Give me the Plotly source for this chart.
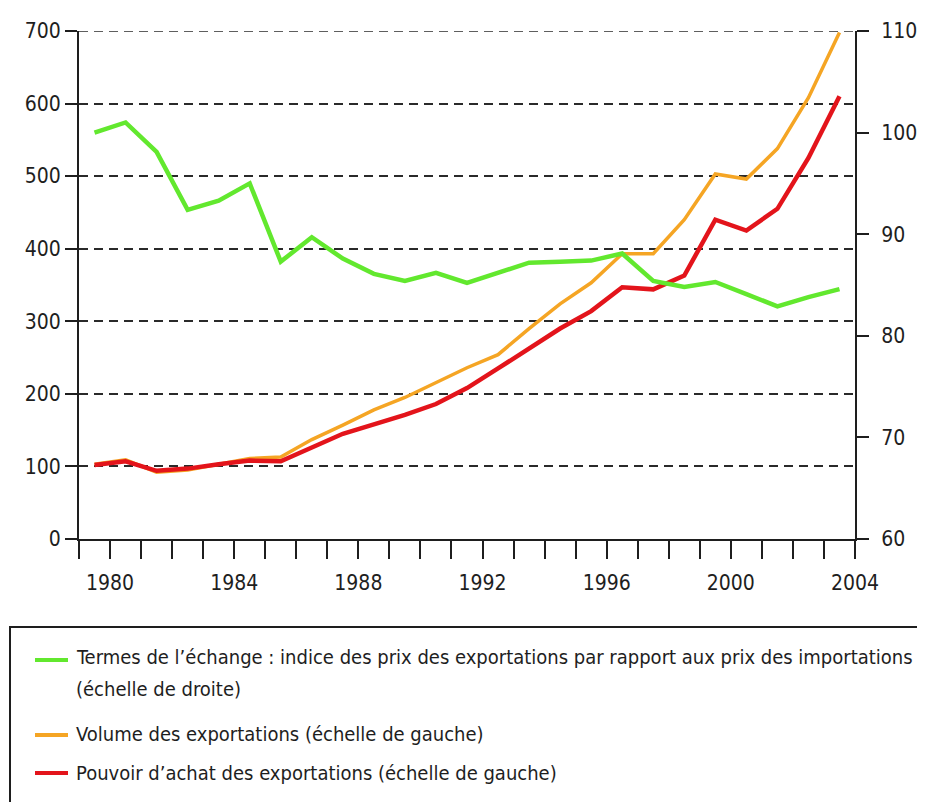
import plotly.graph_objects as go

# ---- data ----
years = list(range(1979, 2004))
termes_echange = [100.0, 101.0, 98.1, 92.4, 93.3, 95.0, 87.3, 89.7, 87.6, 86.1,
                  85.4, 86.2, 85.2, 86.2, 87.2, 87.3, 87.4, 88.1, 85.4, 84.8,
                  85.3, 84.1, 82.9, 83.8, 84.6]
volume_exportations = [103, 109, 92, 95, 103, 111, 113, 137, 157, 178,
                       195, 215, 236, 254, 290, 324, 353, 393, 393, 440,
                       503, 496, 538, 608, 698]
pouvoir_achat = [102, 107, 94, 97, 103, 108, 107, 126, 145, 158,
                 171, 186, 208, 235, 262, 290, 314, 347, 344, 363,
                 440, 425, 455, 525, 610]

x_tick_years = list(range(1979, 2005))
x_label_years = [1980, 1984, 1988, 1992, 1996, 2000, 2004]
left_ticks = [0, 100, 200, 300, 400, 500, 600, 700]
right_ticks = [60, 70, 80, 90, 100, 110]

legend_labels = [
    "Termes de l\u2019\u00e9change : indice des prix des exportations par rapport aux prix des importations",
    "(\u00e9chelle de droite)",
    "Volume des exportations (\u00e9chelle de gauche)",
    "Pouvoir d\u2019achat des exportations (\u00e9chelle de gauche)",
]

# ---- styling / layout (page pixel targets; the page body adds an 8px margin) ----
OFF = 8
W, H = 925 - OFF, 810 - 2 * OFF
L, R, T, B = 79 - OFF, 855 - OFF, 31 - OFF, 539 - OFF
FONT = "Liberation Sans Narrow, DejaVu Sans Condensed, Arial Narrow, sans-serif"
GREEN = "#62E82E"
ORANGE = "#F5A524"
RED = "#E3141B"
INK = "#1e1e1e"

xpos = [y + 0.5 for y in years]  # values plotted in the middle of each year

fig = go.Figure()
fig.add_trace(go.Scatter(x=xpos, y=termes_echange, mode="lines", yaxis="y2",
                         line=dict(color=GREEN, width=4.5), name=legend_labels[0]))
fig.add_trace(go.Scatter(x=xpos, y=volume_exportations, mode="lines",
                         line=dict(color=ORANGE, width=3.5), name=legend_labels[2]))
fig.add_trace(go.Scatter(x=xpos, y=pouvoir_achat, mode="lines",
                         line=dict(color=RED, width=4.5), name=legend_labels[3]))


def px_x(p):
    return (p - OFF - L) / (R - L)


def px_y(p):
    return (B - (p - OFF)) / (B - T)


shapes = []
annotations = []
# top dashed gridline (at the upper edge of the left scale)
shapes.append(dict(type="line", xref="paper", yref="y", x0=0, x1=1,
                   y0=left_ticks[-1], y1=left_ticks[-1],
                   line=dict(color="#2a2a2a", width=1.5, dash="9px,6px")))
# legend box (open at the bottom edge of the page, as in the reference)
shapes.append(dict(type="rect", xref="paper", yref="paper",
                   x0=px_x(10), x1=px_x(919), y0=px_y(840), y1=px_y(627),
                   line=dict(color=INK, width=2), fillcolor="rgba(0,0,0,0)"))
legend_rows = [
    (GREEN, 660, [(legend_labels[0], 657), (legend_labels[1], 689)]),
    (ORANGE, 735, [(legend_labels[2], 734)]),
    (RED, 773, [(legend_labels[3], 773)]),
]
for color, ys, texts in legend_rows:
    shapes.append(dict(type="line", xref="paper", yref="paper",
                       x0=px_x(35), x1=px_x(68), y0=px_y(ys), y1=px_y(ys),
                       line=dict(color=color, width=4)))
    for txt, ty in texts:
        annotations.append(dict(xref="paper", yref="paper", x=px_x(74), y=px_y(ty),
                                text=txt, showarrow=False, xanchor="left", yanchor="middle",
                                font=dict(family=FONT, size=20, color=INK)))

fig.update_layout(
    width=W, height=H,
    margin=dict(l=L, r=W - R, t=T, b=H - B, pad=0, autoexpand=False),
    paper_bgcolor="white", plot_bgcolor="white",
    showlegend=False,
    font=dict(family=FONT, size=21, color=INK),
    xaxis=dict(range=[1979, 2004], tickmode="array", tickvals=x_tick_years,
               ticktext=[str(y) if y in x_label_years else "" for y in x_tick_years],
               ticks="outside", ticklen=18, tickwidth=2, tickcolor=INK,
               ticklabelstandoff=6, automargin=False,
               showline=True, linecolor=INK, linewidth=2,
               showgrid=False, zeroline=False,
               tickfont=dict(family=FONT, size=21, color=INK)),
    yaxis=dict(range=[0, 700], tickmode="array", tickvals=left_ticks,
               ticks="outside", ticklen=12, tickwidth=2, tickcolor=INK,
               automargin=False,
               showline=True, linecolor=INK, linewidth=2,
               showgrid=True, gridcolor="#2a2a2a", gridwidth=1.5, griddash="9px,6px",
               zeroline=False, tickfont=dict(family=FONT, size=21, color=INK)),
    yaxis2=dict(range=[60, 110], tickmode="array", tickvals=right_ticks,
                overlaying="y", side="right",
                ticks="outside", ticklen=12, tickwidth=2, tickcolor=INK,
                ticklabelstandoff=8, automargin=False,
                showline=True, linecolor=INK, linewidth=2,
                showgrid=False, zeroline=False,
                tickfont=dict(family=FONT, size=21, color=INK)),
    shapes=shapes,
    annotations=annotations,
)

fig.write_html("out.html")
